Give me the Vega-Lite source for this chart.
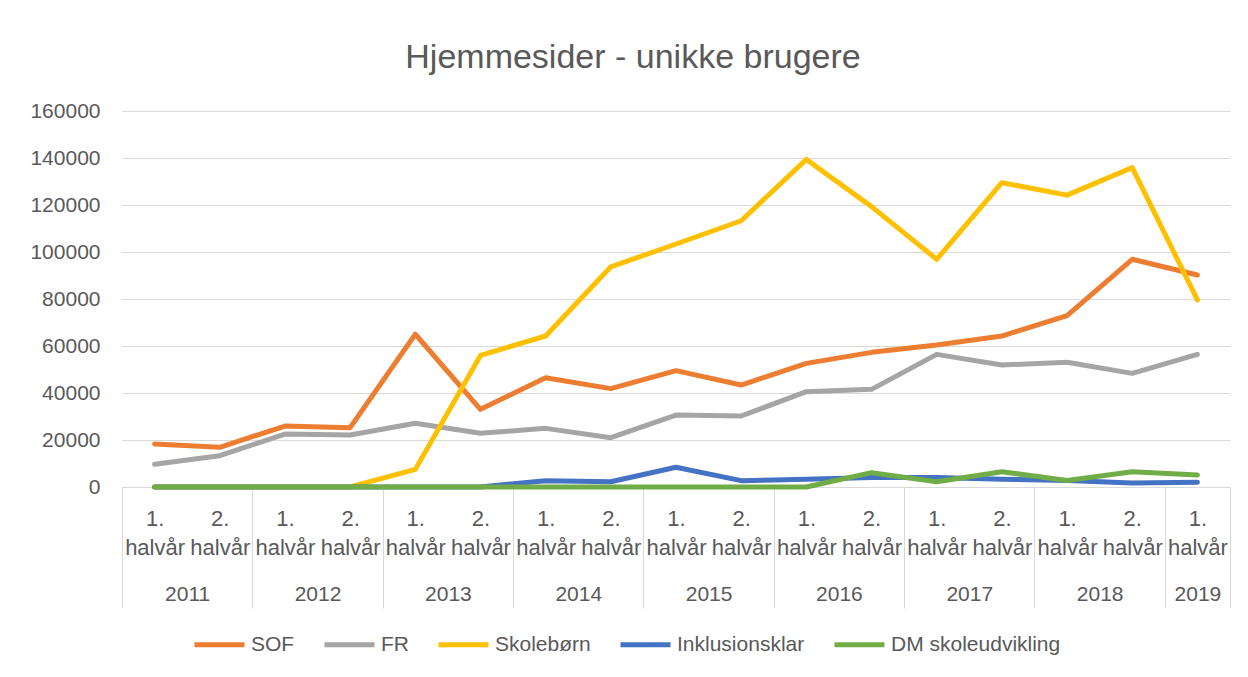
{
  "$schema": "https://vega.github.io/schema/vega-lite/v6.json",
  "autosize": {"type": "none"},
  "width": 1108,
  "height": 376,
  "padding": {"left": 122, "top": 111, "right": 18, "bottom": 190},
  "background": "white",
  "title": {
    "text": "Hjemmesider - unikke brugere",
    "font": "Liberation Sans",
    "fontSize": 34,
    "fontWeight": "normal",
    "color": "#595959",
    "anchor": "middle",
    "dx": -43,
    "offset": 25
  },
  "config": {"view": {"stroke": null}, "font": "Liberation Sans"},
  "data": {
    "values": [
      {"series": "SOF", "period": 2011.0, "value": 18300},
      {"series": "SOF", "period": 2011.5, "value": 16900},
      {"series": "SOF", "period": 2012.0, "value": 25950},
      {"series": "SOF", "period": 2012.5, "value": 25250},
      {"series": "SOF", "period": 2013.0, "value": 65000},
      {"series": "SOF", "period": 2013.5, "value": 33050},
      {"series": "SOF", "period": 2014.0, "value": 46500},
      {"series": "SOF", "period": 2014.5, "value": 41850},
      {"series": "SOF", "period": 2015.0, "value": 49500},
      {"series": "SOF", "period": 2015.5, "value": 43400},
      {"series": "SOF", "period": 2016.0, "value": 52600},
      {"series": "SOF", "period": 2016.5, "value": 57300},
      {"series": "SOF", "period": 2017.0, "value": 60400},
      {"series": "SOF", "period": 2017.5, "value": 64250},
      {"series": "SOF", "period": 2018.0, "value": 72900},
      {"series": "SOF", "period": 2018.5, "value": 96900},
      {"series": "SOF", "period": 2019.0, "value": 90200},
      {"series": "FR", "period": 2011.0, "value": 9650},
      {"series": "FR", "period": 2011.5, "value": 13300},
      {"series": "FR", "period": 2012.0, "value": 22550},
      {"series": "FR", "period": 2012.5, "value": 22100},
      {"series": "FR", "period": 2013.0, "value": 27100},
      {"series": "FR", "period": 2013.5, "value": 22850},
      {"series": "FR", "period": 2014.0, "value": 24950},
      {"series": "FR", "period": 2014.5, "value": 21000},
      {"series": "FR", "period": 2015.0, "value": 30600},
      {"series": "FR", "period": 2015.5, "value": 30200},
      {"series": "FR", "period": 2016.0, "value": 40550},
      {"series": "FR", "period": 2016.5, "value": 41550},
      {"series": "FR", "period": 2017.0, "value": 56450},
      {"series": "FR", "period": 2017.5, "value": 51900},
      {"series": "FR", "period": 2018.0, "value": 53050},
      {"series": "FR", "period": 2018.5, "value": 48350},
      {"series": "FR", "period": 2019.0, "value": 56450},
      {"series": "Skolebørn", "period": 2011.0, "value": 0},
      {"series": "Skolebørn", "period": 2011.5, "value": 0},
      {"series": "Skolebørn", "period": 2012.0, "value": 0},
      {"series": "Skolebørn", "period": 2012.5, "value": 0},
      {"series": "Skolebørn", "period": 2013.0, "value": 7500},
      {"series": "Skolebørn", "period": 2013.5, "value": 56000},
      {"series": "Skolebørn", "period": 2014.0, "value": 64250},
      {"series": "Skolebørn", "period": 2014.5, "value": 93700},
      {"series": "Skolebørn", "period": 2015.0, "value": 103400},
      {"series": "Skolebørn", "period": 2015.5, "value": 113300},
      {"series": "Skolebørn", "period": 2016.0, "value": 139400},
      {"series": "Skolebørn", "period": 2016.5, "value": 119300},
      {"series": "Skolebørn", "period": 2017.0, "value": 96900},
      {"series": "Skolebørn", "period": 2017.5, "value": 129500},
      {"series": "Skolebørn", "period": 2018.0, "value": 124200},
      {"series": "Skolebørn", "period": 2018.5, "value": 135900},
      {"series": "Skolebørn", "period": 2019.0, "value": 79600},
      {"series": "Inklusionsklar", "period": 2011.0, "value": 0},
      {"series": "Inklusionsklar", "period": 2011.5, "value": 0},
      {"series": "Inklusionsklar", "period": 2012.0, "value": 0},
      {"series": "Inklusionsklar", "period": 2012.5, "value": 0},
      {"series": "Inklusionsklar", "period": 2013.0, "value": 0},
      {"series": "Inklusionsklar", "period": 2013.5, "value": 0},
      {"series": "Inklusionsklar", "period": 2014.0, "value": 2700},
      {"series": "Inklusionsklar", "period": 2014.5, "value": 2250},
      {"series": "Inklusionsklar", "period": 2015.0, "value": 8400},
      {"series": "Inklusionsklar", "period": 2015.5, "value": 2700},
      {"series": "Inklusionsklar", "period": 2016.0, "value": 3250},
      {"series": "Inklusionsklar", "period": 2016.5, "value": 4000},
      {"series": "Inklusionsklar", "period": 2017.0, "value": 4000},
      {"series": "Inklusionsklar", "period": 2017.5, "value": 3300},
      {"series": "Inklusionsklar", "period": 2018.0, "value": 2800},
      {"series": "Inklusionsklar", "period": 2018.5, "value": 1700},
      {"series": "Inklusionsklar", "period": 2019.0, "value": 2000},
      {"series": "DM skoleudvikling", "period": 2011.0, "value": 0},
      {"series": "DM skoleudvikling", "period": 2011.5, "value": 0},
      {"series": "DM skoleudvikling", "period": 2012.0, "value": 0},
      {"series": "DM skoleudvikling", "period": 2012.5, "value": 0},
      {"series": "DM skoleudvikling", "period": 2013.0, "value": 0},
      {"series": "DM skoleudvikling", "period": 2013.5, "value": 0},
      {"series": "DM skoleudvikling", "period": 2014.0, "value": 0},
      {"series": "DM skoleudvikling", "period": 2014.5, "value": 0},
      {"series": "DM skoleudvikling", "period": 2015.0, "value": 0},
      {"series": "DM skoleudvikling", "period": 2015.5, "value": 0},
      {"series": "DM skoleudvikling", "period": 2016.0, "value": 0},
      {"series": "DM skoleudvikling", "period": 2016.5, "value": 6100},
      {"series": "DM skoleudvikling", "period": 2017.0, "value": 2250},
      {"series": "DM skoleudvikling", "period": 2017.5, "value": 6500},
      {"series": "DM skoleudvikling", "period": 2018.0, "value": 2800},
      {"series": "DM skoleudvikling", "period": 2018.5, "value": 6500},
      {"series": "DM skoleudvikling", "period": 2019.0, "value": 5100}
    ]
  },
  "layer": [
    {
      "mark": {"type": "line", "strokeWidth": 5, "strokeCap": "round", "strokeJoin": "round"},
      "encoding": {
        "x": {
          "field": "period",
          "type": "quantitative",
          "scale": {"domain": [2010.75, 2019.25], "nice": false, "zero": false},
          "axis": {
            "orient": "bottom",
            "title": null,
            "values": [2011, 2011.5, 2012, 2012.5, 2013, 2013.5, 2014, 2014.5, 2015, 2015.5, 2016, 2016.5, 2017, 2017.5, 2018, 2018.5, 2019],
            "labelExpr": "datum.value % 1 == 0 ? ['1.', 'halvår'] : ['2.', 'halvår']",
            "ticks": false,
            "grid": false,
            "domain": true,
            "domainColor": "#d9d9d9",
            "domainWidth": 1,
            "labelFont": "Liberation Sans",
            "labelFontSize": 22,
            "labelColor": "#595959",
            "labelPadding": 21,
            "labelLineHeight": 29,
            "labelBaseline": "top",
            "labelOverlap": false,
            "labelFlush": false
          }
        },
        "y": {
          "field": "value",
          "type": "quantitative",
          "scale": {"domain": [0, 160000], "nice": false},
          "axis": {
            "title": null,
            "values": [0, 20000, 40000, 60000, 80000, 100000, 120000, 140000, 160000],
            "format": "d",
            "ticks": false,
            "domain": false,
            "gridColor": "#d9d9d9",
            "gridWidth": 1,
            "labelFont": "Liberation Sans",
            "labelFontSize": 21,
            "labelColor": "#595959",
            "labelPadding": 22
          }
        },
        "color": {
          "field": "series",
          "type": "nominal",
          "sort": ["SOF", "FR", "Skolebørn", "Inklusionsklar", "DM skoleudvikling"],
          "scale": {
            "domain": ["SOF", "FR", "Skolebørn", "Inklusionsklar", "DM skoleudvikling"],
            "range": ["#ED7D31", "#A5A5A5", "#FFC000", "#4472C4", "#70AD47"]
          },
          "legend": {
            "orient": "none",
            "legendX": 70,
            "legendY": 506,
            "direction": "horizontal",
            "title": null,
            "symbolType": "stroke",
            "symbolSize": 2500,
            "symbolStrokeWidth": 5,
            "labelFont": "Liberation Sans",
            "labelFontSize": 21,
            "labelColor": "#595959",
            "labelOffset": 4,
            "labelLimit": 400,
            "columnPadding": 19
          }
        }
      }
    },
    {
      "mark": {"type": "point", "opacity": 0},
      "encoding": {
        "x": {
          "field": "period",
          "type": "quantitative",
          "scale": {"domain": [2010.75, 2019.25], "nice": false, "zero": false},
          "axis": {
            "orient": "bottom",
            "title": null,
            "values": [2011.25, 2012.25, 2013.25, 2014.25, 2015.25, 2016.25, 2017.25, 2018.25, 2019],
            "labelExpr": "format(floor(datum.value), 'd')",
            "ticks": false,
            "grid": false,
            "domain": false,
            "labelFont": "Liberation Sans",
            "labelFontSize": 21,
            "labelColor": "#595959",
            "labelPadding": 96,
            "labelBaseline": "top",
            "labelOverlap": false,
            "labelFlush": false
          }
        }
      }
    },
    {
      "mark": {"type": "point", "opacity": 0},
      "encoding": {
        "x": {
          "field": "period",
          "type": "quantitative",
          "scale": {"domain": [2010.75, 2019.25], "nice": false, "zero": false},
          "axis": {
            "orient": "bottom",
            "title": null,
            "values": [2010.75, 2011.75, 2012.75, 2013.75, 2014.75, 2015.75, 2016.75, 2017.75, 2018.75, 2019.25],
            "labels": false,
            "ticks": true,
            "tickSize": 121,
            "tickColor": "#d9d9d9",
            "tickWidth": 1,
            "grid": false,
            "domain": false
          }
        }
      }
    }
  ],
  "resolve": {"scale": {"x": "independent"}, "axis": {"x": "independent"}}
}
